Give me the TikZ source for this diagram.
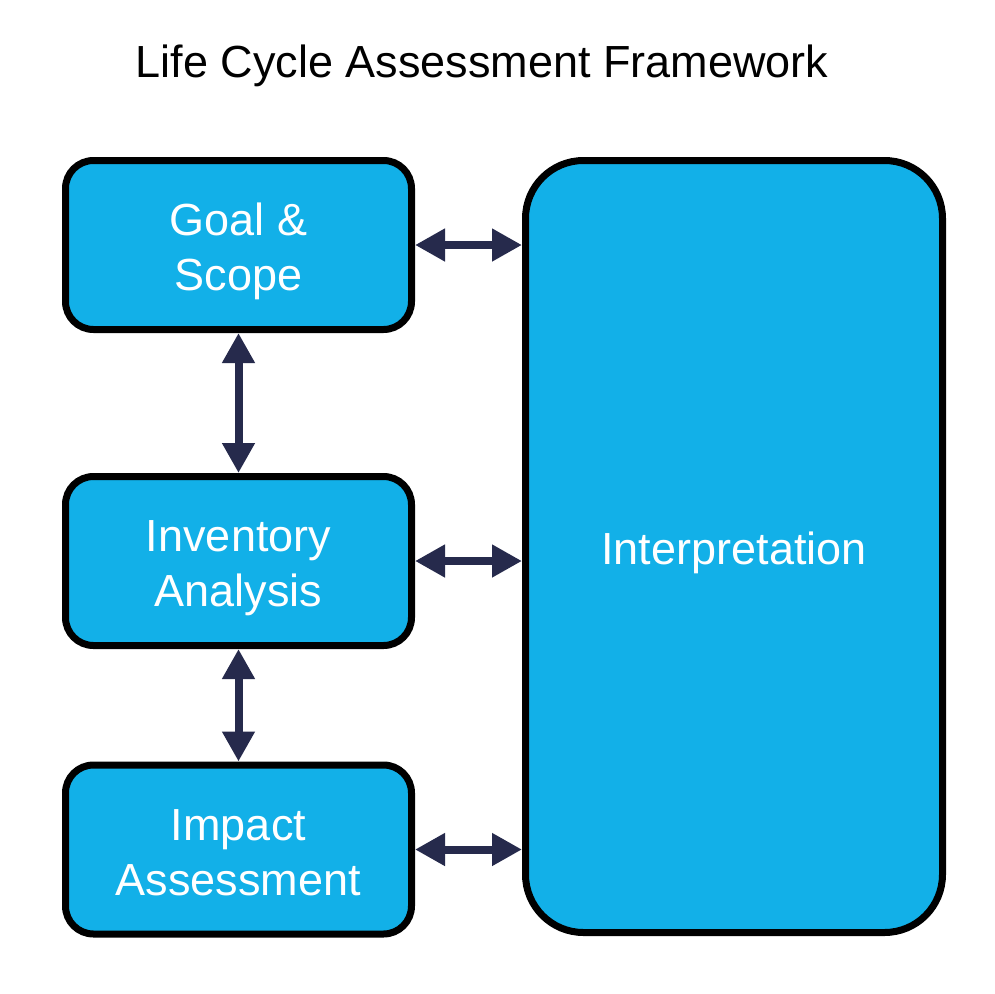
\documentclass[tikz,border=0pt]{standalone}
\usepackage{fontspec}
\setmainfont{Liberation Sans}
\usetikzlibrary{arrows.meta}
\definecolor{boxblue}{HTML}{12B0E8}
\definecolor{arrownavy}{HTML}{262A4C}
\newcommand{\lowered}[1]{\raisebox{0pt}[\dimexpr\height+14pt\relax]{\begin{tabular}{@{}c@{}}#1\end{tabular}}}
\begin{document}
\begin{tikzpicture}[x=1pt,y=-1pt,
  stage/.style={draw=black, line width=7pt, fill=boxblue, rounded corners=28pt,
    minimum width=346pt, minimum height=169pt, text=white, align=center,
    font=\fontsize{45}{55}\selectfont, inner sep=0pt},
  link/.style={draw=arrownavy, line width=8pt,
    {Triangle[length=30pt,width=31pt]}-{Triangle[length=30pt,width=31pt]}}]
\useasboundingbox (0,0) rectangle (994,994);
\fill[white] (0,0) rectangle (994,994);
\node[font=\fontsize{45}{55}\selectfont] (title) at (482,66) {Life Cycle Assessment Framework};
\node[stage] (goal) at (238.5,245) {\lowered{Goal \&\\Scope}};
\node[stage] (inv) at (238.5,561) {\lowered{Inventory\\Analysis}};
\node[stage] (imp) at (238.5,849.5) {\lowered{Impact\\Assessment}};
\node[stage, rounded corners=58pt, minimum width=417pt, minimum height=772pt] (interp) at (734,546.5) {\lowered{Interpretation}};
\draw[link] (goal.east) -- (goal.east -| interp.west);
\draw[link] (inv.east) -- (inv.east -| interp.west);
\draw[link] (imp.east) -- (imp.east -| interp.west);
\draw[link] (goal.south) -- (inv.north);
\draw[link] (inv.south) -- (imp.north);
\end{tikzpicture}
\end{document}
